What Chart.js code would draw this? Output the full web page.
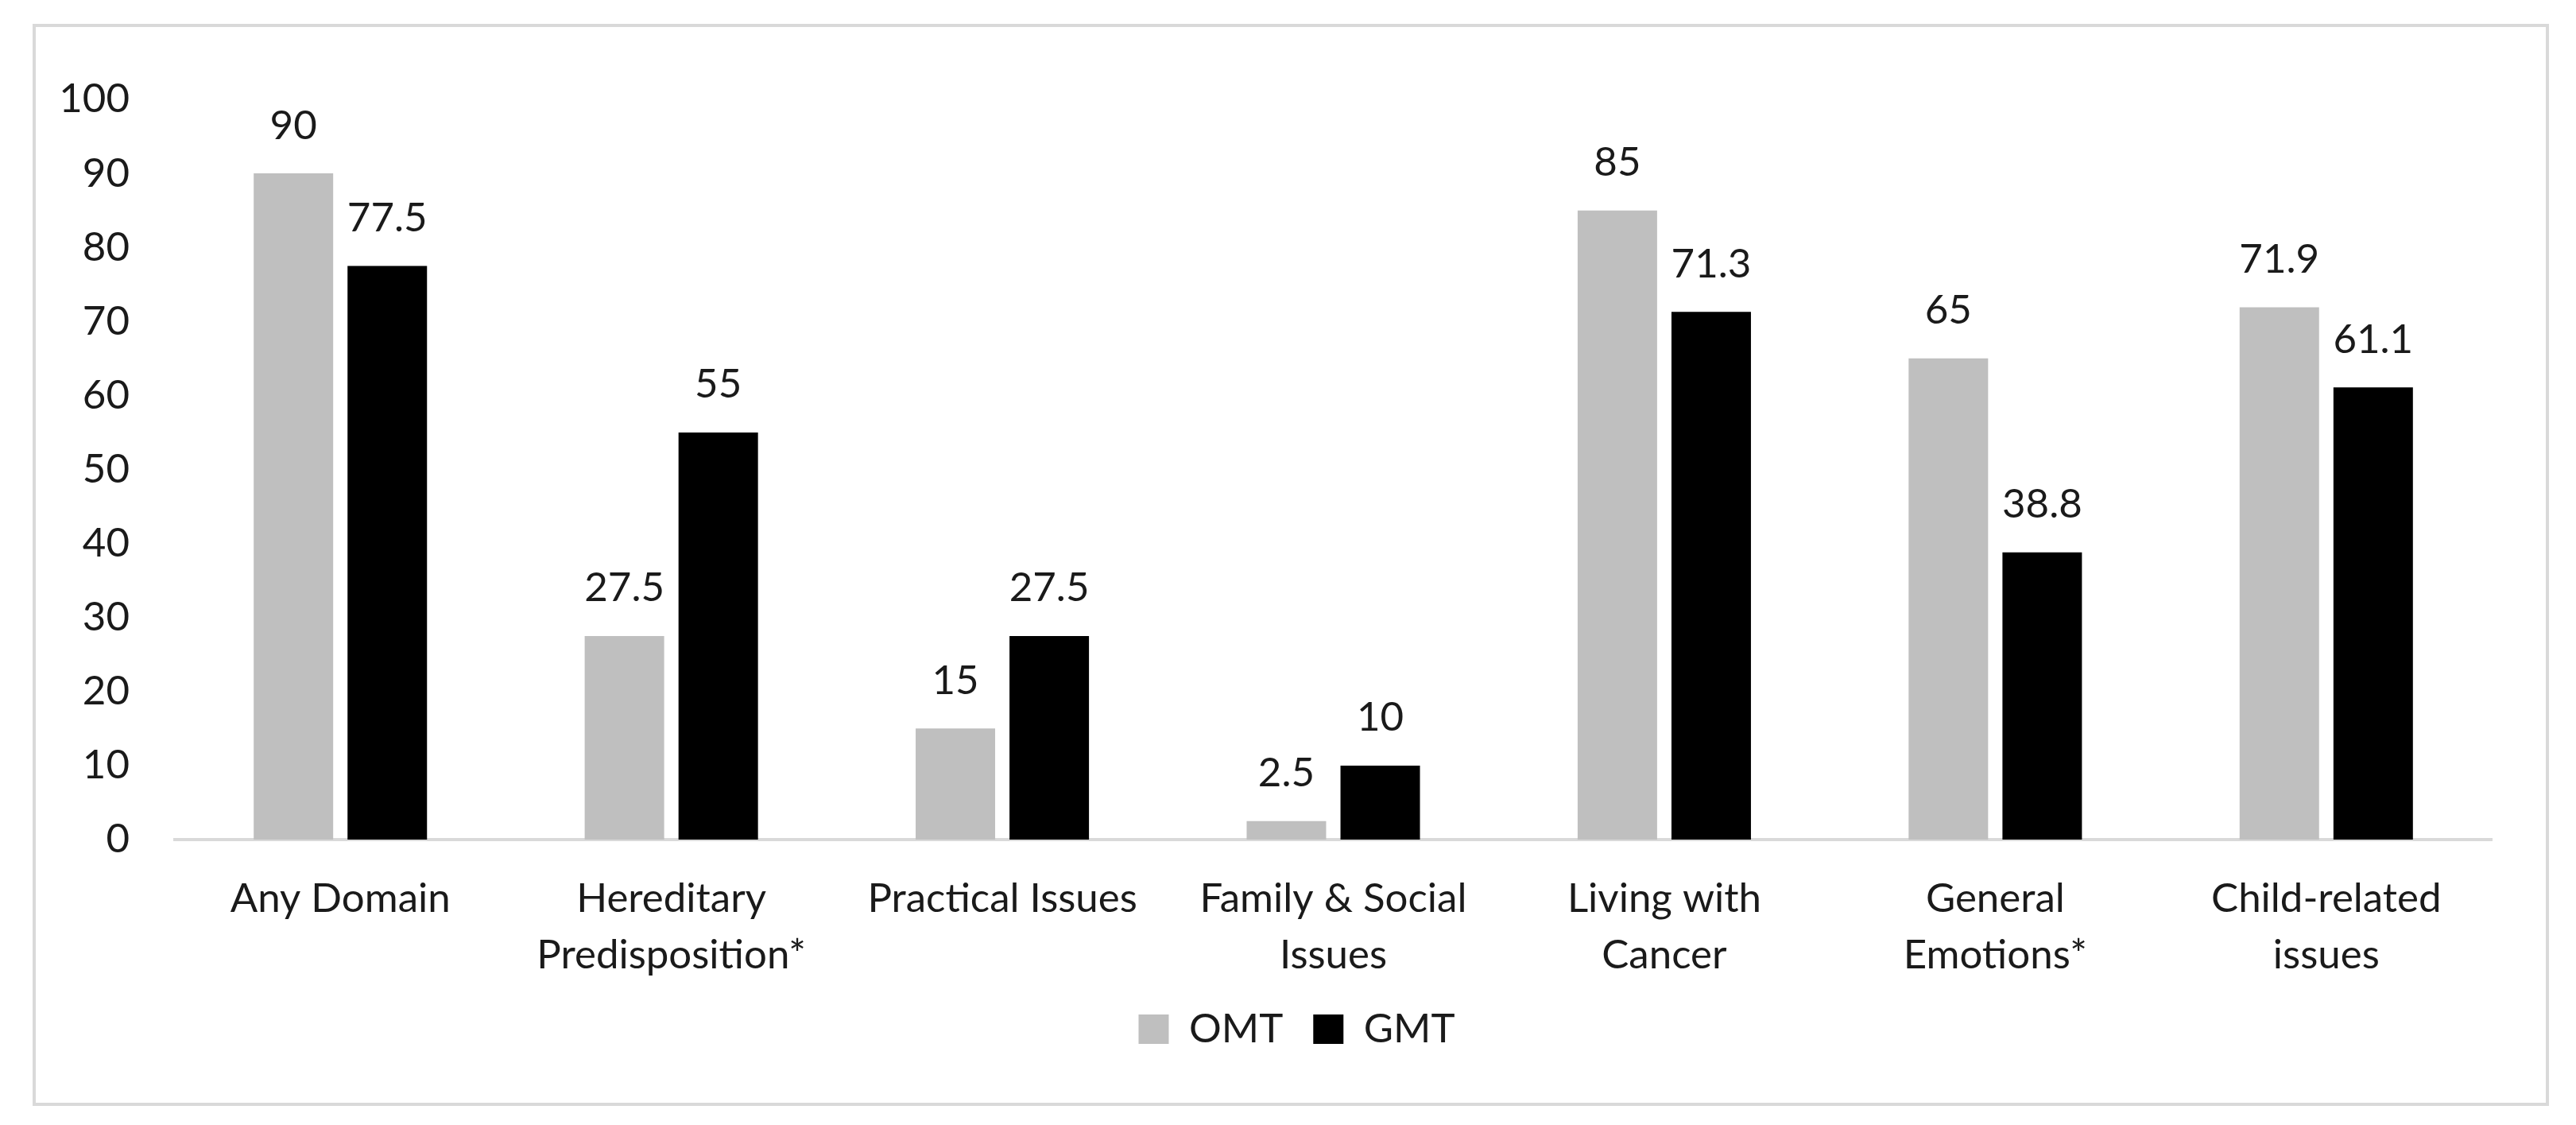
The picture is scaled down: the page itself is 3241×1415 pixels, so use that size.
<!DOCTYPE html>
<html>
<head>
<meta charset="utf-8">
<script src="https://cdn.jsdelivr.net/npm/chart.js@4"></script>
<style>
  html, body { margin: 0; padding: 0; background: #fff; }
  #wrap { position: relative; width: 3241px; height: 1415px; }
  #frame { position: absolute; left: 41px; top: 30px; width: 3158px; height: 1353px; border: 4px solid #d9d9d9; }
  #c { position: absolute; left: 0; top: 0; }
</style>
</head>
<body>
<div id="wrap">
  <div id="frame"></div>
  <canvas id="c" width="3241" height="1415"></canvas>
</div>
<script>
var labels = [
  ['Any Domain'],
  ['Hereditary', 'Predisposition*'],
  ['Practical Issues'],
  ['Family & Social', 'Issues'],
  ['Living with', 'Cancer'],
  ['General', 'Emotions*'],
  ['Child-related', 'issues']
]
var omt = [90, 27.5, 15, 2.5, 85, 65, 71.9]
var gmt = [77.5, 55, 27.5, 10, 71.3, 38.8, 61.1]
var yTicks = [0, 10, 20, 30, 40, 50, 60, 70, 80, 90, 100]

var FONT = 'Lato'

// value labels above each bar
const barValues = {
  id: 'barValues',
  afterDatasetsDraw(chart) {
    const ctx = chart.ctx
    ctx.save()
    ctx.font = '51px ' + FONT
    ctx.fillStyle = '#1a1a1a'
    ctx.textAlign = 'center'
    ctx.textBaseline = 'middle'
    chart.data.datasets.forEach(function(ds, i) {
      chart.getDatasetMeta(i).data.forEach(function(bar, j) {
        ctx.fillText(String(ds.data[j]), bar.x, bar.y - 60)
      })
    })
    ctx.restore()
  }
}

// legend sits centred on the frame, not on the plot box
const legendShift = {
  id: 'legendShift',
  afterLayout(chart) {
    chart.legend.left += 64
    chart.legend.right += 64
  }
}

const ctx = document.getElementById('c').getContext('2d')
const myChart = new Chart(ctx, {
  type: 'bar',
  data: {
    labels: labels,
    datasets: [{
      label: 'OMT',
      data: omt,
      backgroundColor: '#bfbfbf',
      categoryPercentage: 0.567,
      barPercentage: 0.847
    }, {
      label: 'GMT',
      data: gmt,
      backgroundColor: '#000000',
      categoryPercentage: 0.567,
      barPercentage: 0.847
    }]
  },
  options: {
    responsive: false,
    devicePixelRatio: 1,
    animation: false,
    layout: { padding: { left: 0, right: 106, top: 125, bottom: 85 } },
    plugins: {
      tooltip: { enabled: false },
      legend: {
        position: 'bottom',
        labels: {
          boxWidth: 38,
          boxHeight: 37,
          padding: 38,
          color: '#1a1a1a',
          font: { family: FONT, size: 51 }
        }
      }
    },
    scales: {
      x: {
        grid: { display: false, drawTicks: false },
        border: { display: true, color: '#d9d9d9', width: 4 },
        ticks: {
          color: '#1a1a1a',
          font: { family: FONT, size: 51, lineHeight: 1.39 },
          padding: 39,
          maxRotation: 0,
          autoSkip: false
        },
        afterFit: function(scale) { scale.height = 175 }
      },
      y: {
        min: 0,
        max: 100,
        grid: { display: false, drawTicks: false },
        border: { display: false },
        afterBuildTicks: function(scale) {
          scale.ticks = yTicks.map(function(v) { return { value: v } })
        },
        ticks: {
          color: '#1a1a1a',
          font: { family: FONT, size: 51 },
          padding: 57
        },
        afterFit: function(scale) { scale.width = 220 }
      }
    }
  },
  plugins: [barValues, legendShift]
})
</script>
</body>
</html>
